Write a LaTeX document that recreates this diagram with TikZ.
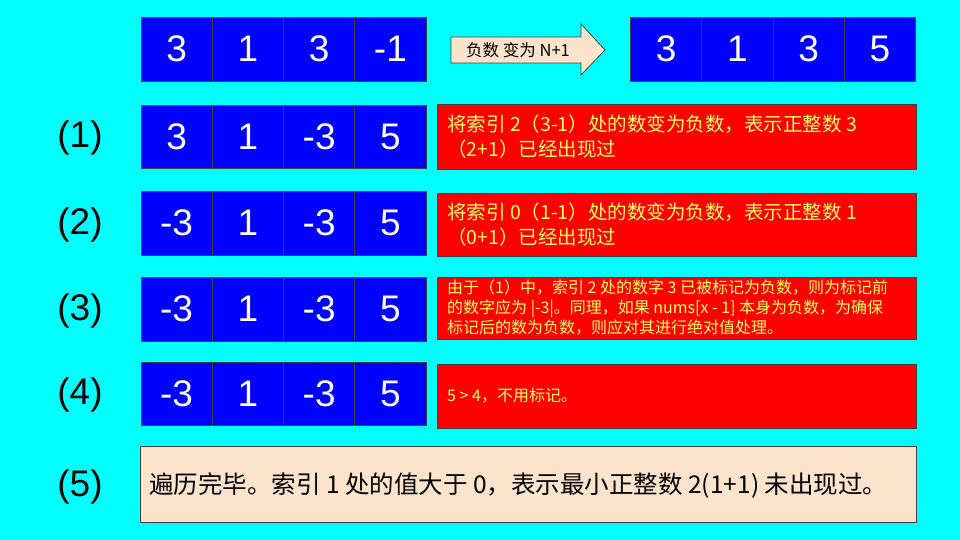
\documentclass[tikz,border=0pt]{standalone}
\usepackage{fontspec}
\setmainfont{Liberation Sans}
\newfontfamily\cjk{Noto Sans CJK SC}
\definecolor{bg}{HTML}{00FFFF}
\definecolor{cellblue}{HTML}{0000FF}
\definecolor{boxred}{HTML}{FF0000}
\definecolor{txtyellow}{HTML}{FFFF66}
\definecolor{beige}{HTML}{FCE4CC}
\definecolor{edge}{HTML}{404040}
\begin{document}
\begin{tikzpicture}[x=1pt,y=-1pt,
 cell/.style={draw=edge,line width=0.8pt,fill=cellblue,minimum width=71.25pt,inner sep=0pt,text=white,font=\fontsize{37}{40}\selectfont},
 lbl/.style={font=\fontsize{37}{40}\selectfont,text=black,inner sep=0pt},
 note/.style={draw=edge,line width=0.8pt,fill=boxred,anchor=north west,inner sep=0pt,minimum width=479pt},
 notetext/.style={anchor=west,align=left,text=txtyellow,inner sep=0pt},
 arrowbox/.style={draw=edge,line width=0.8pt,fill=beige}]
\fill[bg] (0,0) rectangle (960,540);
\useasboundingbox (0,0) rectangle (960,540);
% top arrays
\foreach \v [count=\i] in {3,1,3,-1}
  \node[cell,minimum height=64pt] (t\i) at ({141+71.25*(\i-0.5)},49) {\v};
\foreach \v [count=\i] in {3,1,3,5}
  \node[cell,minimum height=64pt] (u\i) at ({630.5+71.25*(\i-0.5)},49) {\v};
% arrow
\draw[arrowbox] (451,37) -- (581,37) -- (581,24) -- (605,50) -- (581,75) -- (581,63) -- (451,63) -- cycle;
\node[font=\cjk\fontsize{16.5}{18}\selectfont,inner sep=0pt] (arr) at (518,50) {负数 变为 N+1};
% rows
\foreach \v [count=\i] in {3,1,-3,5}
  \node[cell,minimum height=63pt] (a\i) at ({141+71.25*(\i-0.5)},136.5) {\v};
\foreach \v [count=\i] in {-3,1,-3,5}
  \node[cell,minimum height=64pt] (b\i) at ({141+71.25*(\i-0.5)},223) {\v};
\foreach \v [count=\i] in {-3,1,-3,5}
  \node[cell,minimum height=64pt] (c\i) at ({141+71.25*(\i-0.5)},309) {\v};
\foreach \v [count=\i] in {-3,1,-3,5}
  \node[cell,minimum height=63pt] (d\i) at ({141+71.25*(\i-0.5)},393.5) {\v};
% labels
\node[lbl] (l1) at (80,138) {(1)};
\node[lbl] (l2) at (80,225) {(2)};
\node[lbl] (l3) at (80,311) {(3)};
\node[lbl] (l4) at (80,395) {(4)};
\node[lbl] (l5) at (80,487) {(5)};
% red notes
\node[note,minimum height=65pt] (n1) at (437,104) {};
\node[notetext,font=\cjk\fontsize{19.5}{25}\selectfont] (n1t) at (447,137) {将索引 2（3-1）处的数变为负数，表示正整数 3\\（2+1）已经出现过};
\node[note,minimum height=63pt] (n2) at (437,193) {};
\node[notetext,font=\cjk\fontsize{19.5}{25}\selectfont] (n2t) at (447,225) {将索引 0（1-1）处的数变为负数，表示正整数 1\\（0+1）已经出现过};
\node[note,minimum height=62pt] (n3) at (437,277) {};
\node[notetext,font=\cjk\fontsize{16}{20}\selectfont] (n3t) at (447,308) {由于（1）中，索引 2 处的数字 3 已被标记为负数，则为标记前\\的数字应为 |-3|。同理，如果 nums[x - 1] 本身为负数，为确保\\标记后的数为负数，则应对其进行绝对值处理。};
\node[note,minimum height=64pt] (n4) at (437,364) {};
\node[notetext,font=\cjk\fontsize{16}{20}\selectfont] (n4t) at (447,396) {5 > 4，不用标记。};
% final box
\node[draw=edge,line width=0.8pt,fill=beige,anchor=north west,inner sep=0pt,minimum width=776pt,minimum height=76pt] (n5) at (140,446) {};
\node[anchor=west,inner sep=0pt,font=\cjk\fontsize{24.5}{26}\selectfont] (n5t) at (149,485) {遍历完毕。索引 1 处的值大于 0，表示最小正整数 2(1+1) 未出现过。};
\end{tikzpicture}
\end{document}
